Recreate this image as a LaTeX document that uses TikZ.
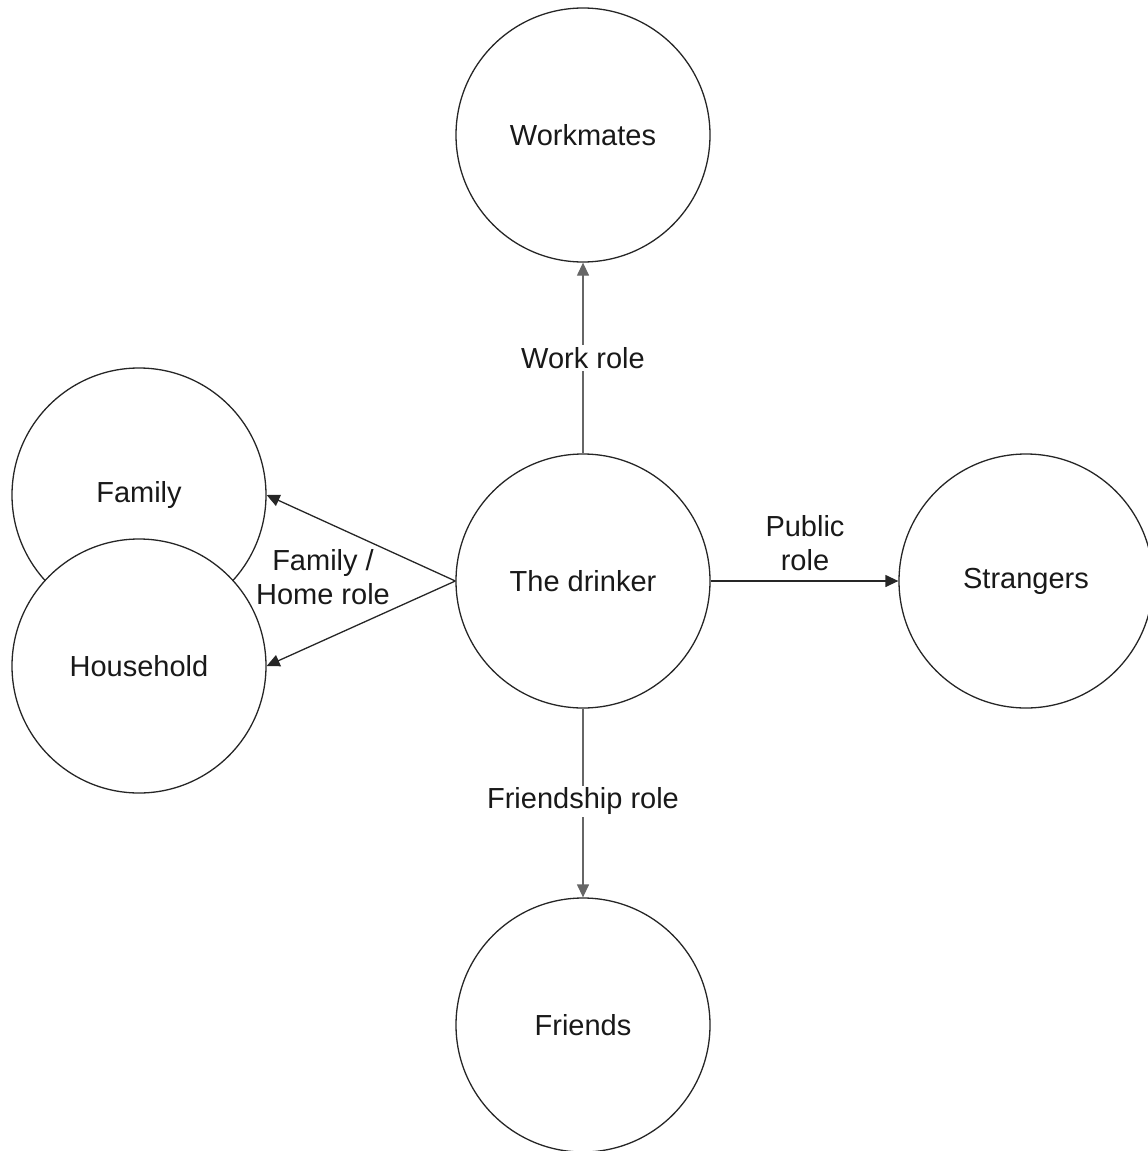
\documentclass[tikz,border=0pt]{standalone}
\usepackage{fontspec}
\setmainfont{Liberation Sans}
\usetikzlibrary{arrows.meta}
\begin{document}
\begin{tikzpicture}[x=1pt,y=-1pt,
  role/.style={circle,draw=black!85,line width=1.3pt,fill=white,minimum size=254pt,inner sep=0pt,font=\fontsize{29}{34}\selectfont,text=black!90},
  conn/.style={draw=black!85,line width=1.3pt,-{Triangle[length=13pt,width=12pt]}},
  lab/.style={fill=white,inner sep=2pt,font=\fontsize{29}{34}\selectfont,align=center,text=black!90}]
\useasboundingbox (0,0) rectangle (1148,1151);
\node[role] (work) at (583,135) {Workmates};
\node[role] (drink) at (583,581) {The drinker};
\node[role] (str) at (1026,581) {Strangers};
\node[role] (fri) at (583,1025) {Friends};
\node[role] (fam) at (139,495) {Family};
\node[role] (hou) at (139,666) {Household};
\draw[conn,draw=black!60] (drink.north) -- (work.south) node[lab,midway] (wl) {Work role};
\draw[conn,draw=black!60] (drink.south) -- (fri.north) node[lab,pos=0.49] (fl) {Friendship role};
\draw[conn] (drink.east) -- (str.west);
\node[font=\fontsize{29}{34}\selectfont,align=center,text=black!90] (pl) at (805,543) {Public\\role};
\draw[conn] (drink.west) -- (fam.east);
\draw[conn] (drink.west) -- (hou.east);
\node[font=\fontsize{29}{34}\selectfont,align=center,text=black!90] (hl) at (323,577) {Family /\\Home role};
\end{tikzpicture}
\end{document}
